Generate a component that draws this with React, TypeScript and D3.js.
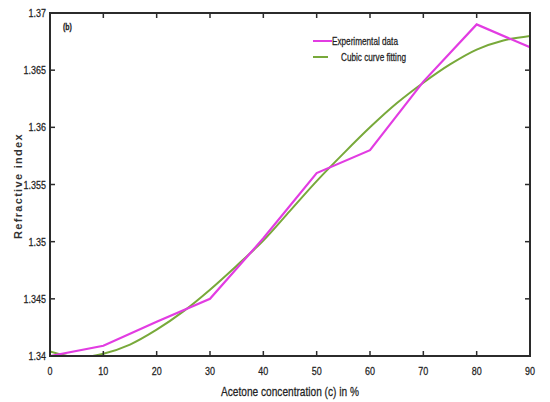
import React from "react";
import * as d3 from "d3";

const xTicks = [0, 10, 20, 30, 40, 50, 60, 70, 80, 90];
const yTicks = [1.34, 1.345, 1.35, 1.355, 1.36, 1.365, 1.37];
const yTickLabels = ["1.34", "1.345", "1.35", "1.355", "1.36", "1.365", "1.37"];

const expX = [0, 10, 20, 30, 40, 50, 60, 70, 80, 90];
const expY = [1.34, 1.3409, 1.343, 1.345, 1.3503, 1.356, 1.358, 1.364, 1.369, 1.367];

const fitX = [0, 5, 10, 15, 20, 25, 30, 35, 40, 45, 50, 55, 60, 65, 70, 75, 80, 85, 90];
const fitY = [1.3404, 1.3399, 1.3402, 1.341, 1.3423, 1.3439, 1.3458, 1.3479, 1.3501, 1.3527, 1.3553, 1.3577, 1.36, 1.3621, 1.3639, 1.3655, 1.3668, 1.3676, 1.368];

const seriesNames = ["Experimental data", "Cubic curve fitting"];

const W = 550, H = 402;
const M = { left: 50, right: 530, top: 13, bottom: 356 };
const FONT = "'Liberation Sans', Arial, sans-serif";
const SX = 0.78;

function NText(props: { x: number; y: number; size: number; anchor?: string; children: React.ReactNode; weight?: string; fill?: string }) {
  return (
    <text
      transform={`translate(${props.x},${props.y}) scale(${SX},1)`}
      textAnchor={props.anchor || "start"}
      fontFamily={FONT}
      fontSize={props.size}
      fontWeight={props.weight || "normal"}
      fill={props.fill || "#222"}
      stroke={props.fill || "#222"}
      strokeWidth={0.25}
    >
      {props.children}
    </text>
  );
}

export default function App() {
  const x = d3.scaleLinear().domain([0, 90]).range([M.left, M.right]);
  const y = d3.scaleLinear().domain([1.34, 1.37]).range([M.bottom, M.top]);
  const line = d3.line<[number, number]>().x(d => x(d[0])).y(d => y(d[1]));
  const smooth = d3.line<[number, number]>().x(d => x(d[0])).y(d => y(d[1])).curve(d3.curveCatmullRom);
  const expPts = expX.map((v, i) => [v, expY[i]] as [number, number]);
  const fitPts = fitX.map((v, i) => [v, fitY[i]] as [number, number]);
  const magenta = "#e23ce2";
  const green = "#78a93a";
  const axis = "#2b2b2b";
  const tl = 5;
  return (
    <svg width={W} height={H} style={{ position: "absolute", left: 0, top: 0, background: "#fff" }}>
      <defs>
        <clipPath id="plot">
          <rect x={M.left} y={M.top} width={M.right - M.left} height={M.bottom - M.top} />
        </clipPath>
      </defs>
      <g clipPath="url(#plot)">
        <path d={smooth(fitPts) || ""} fill="none" stroke={green} strokeWidth={2} />
        <path d={line(expPts) || ""} fill="none" stroke={magenta} strokeWidth={2.2} />
      </g>
      {xTicks.map(t => (
        <g key={"x" + t}>
          <line x1={x(t)} x2={x(t)} y1={M.bottom} y2={M.bottom - tl} stroke={axis} strokeWidth={1.5} />
          <line x1={x(t)} x2={x(t)} y1={M.top} y2={M.top + tl} stroke={axis} strokeWidth={1.5} />
          <NText x={x(t)} y={375} size={11.5} anchor="middle">{t}</NText>
        </g>
      ))}
      {yTicks.map((t, i) => (
        <g key={"y" + t}>
          <line x1={M.left} x2={M.left + tl} y1={y(t)} y2={y(t)} stroke={axis} strokeWidth={1.5} />
          <line x1={M.right} x2={M.right - tl} y1={y(t)} y2={y(t)} stroke={axis} strokeWidth={1.5} />
          <NText x={M.left - 4} y={y(t) + 4} size={11.5} anchor="end">{yTickLabels[i]}</NText>
        </g>
      ))}
      <rect x={M.left} y={M.top} width={M.right - M.left} height={M.bottom - M.top} fill="none" stroke={axis} strokeWidth={2} />
      <NText x={63} y={30} size={9} weight="bold">(b)</NText>
      <line x1={313} x2={332} y1={41} y2={41} stroke={magenta} strokeWidth={2} />
      <NText x={332} y={44.5} size={10.5}>{seriesNames[0]}</NText>
      <line x1={313} x2={328} y1={57} y2={57} stroke={green} strokeWidth={2} />
      <NText x={341} y={60.5} size={10.5}>{seriesNames[1]}</NText>
      <NText x={290} y={396} size={13} anchor="middle">Acetone concentration (c) in %</NText>
      <text transform="translate(22,186) rotate(-90)" textAnchor="middle" fontFamily={FONT} fontSize={11} fontWeight="bold" letterSpacing={1.3} fill="#333">Refractive index</text>
    </svg>
  );
}
